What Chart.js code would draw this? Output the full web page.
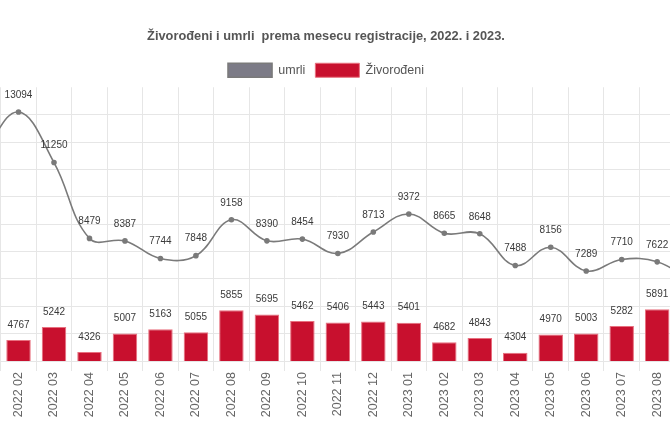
<!DOCTYPE html>
<html><head><meta charset="utf-8">
<script src="https://cdn.jsdelivr.net/npm/chart.js@4/dist/chart.umd.min.js"></script>
<style>
html,body{margin:0;padding:0;width:670px;height:447px;overflow:hidden;background:#fff;}
#c{position:absolute;left:-64px;top:0;}
</style></head><body>
<canvas id="c" width="780" height="447"></canvas>
<script>
// Categories (first and last months lie just outside the visible crop)
const categories = ['2022 01','2022 02','2022 03','2022 04','2022 05','2022 06','2022 07','2022 08','2022 09','2022 10','2022 11','2022 12','2023 01','2023 02','2023 03','2023 04','2023 05','2023 06','2023 07','2023 08','2023 09'];
const umrli = [11600, 13094, 11250, 8479, 8387, 7744, 7848, 9158, 8390, 8454, 7930, 8713, 9372, 8665, 8648, 7488, 8156, 7289, 7710, 7622, 6900];
const zivorodjeni = [null, 4767, 5242, 4326, 5007, 5163, 5055, 5855, 5695, 5462, 5406, 5443, 5401, 4682, 4843, 4304, 4970, 5003, 5282, 5891, null];
const yMin = 4000, yMax = 14000, yStep = 1000;
const titleText = 'Živorođeni i umrli  prema mesecu registracije, 2022. i 2023.';

Chart.defaults.font.family = '"Liberation Sans", Arial, Helvetica, sans-serif';

const valueLabels = {
  id: 'valueLabels',
  afterDatasetsDraw(chart) {
    const ctx = chart.ctx;
    ctx.save();
    ctx.font = '10px "Liberation Sans", Arial, sans-serif';
    ctx.fillStyle = '#3a3a3a';
    ctx.textAlign = 'center';
    ctx.textBaseline = 'middle';
    chart.data.datasets.forEach((ds, i) => {
      const meta = chart.getDatasetMeta(i);
      meta.data.forEach((el, j) => {
        const v = ds.data[j];
        if (v == null) return;
        const off = ds.type === 'line' ? 17 : 15;
        ctx.fillText(String(v), el.x, el.y - off);
      });
    });
    ctx.restore();
  }
};

new Chart(document.getElementById('c'), {
  type: 'bar',
  data: {
    labels: categories,
    datasets: [
      { type: 'line', label: 'umrli', data: umrli, borderColor: '#7a7a7a', backgroundColor: '#7c7b87',
        borderWidth: 1.6, pointRadius: 2, pointBackgroundColor: '#7a7a7a', pointBorderColor: '#7a7a7a',
        tension: 0.4, order: 0 },
      { type: 'bar', label: 'Živorođeni', data: zivorodjeni, backgroundColor: '#c8102e', borderColor: '#e8707f',
        borderWidth: 1, barPercentage: 0.69, categoryPercentage: 1, order: 1 }
    ]
  },
  options: {
    responsive: false,
    animation: false,
    layout: { padding: { left: 0, right: 0, top: 0, bottom: 28.8 } },
    plugins: {
      title: { display: true, text: titleText, color: '#555', font: { size: 12.8, weight: 'bold' },
        padding: { top: 28.6, bottom: 9.3 } },
      legend: { labels: { boxWidth: 44, boxHeight: 14, padding: 10, color: '#555', font: { size: 12.5 } } },
      tooltip: { enabled: false }
    },
    scales: {
      x: {
        grid: { color: '#e6e6e6', tickLength: 10, offset: true },
        border: { display: false },
        ticks: { autoSkip: false, minRotation: 90, maxRotation: 90, padding: 1, color: '#666', font: { size: 12.5 } }
      },
      y: {
        min: yMin, max: yMax,
        ticks: { stepSize: yStep, display: false },
        grid: { color: c => (c.tick && c.tick.value === yMax) ? 'rgba(0,0,0,0)' : '#e6e6e6', drawTicks: false },
        border: { display: false },
        afterFit(s) { s.width = 29.3; }
      }
    }
  },
  plugins: [valueLabels]
});
</script>
</body></html>
